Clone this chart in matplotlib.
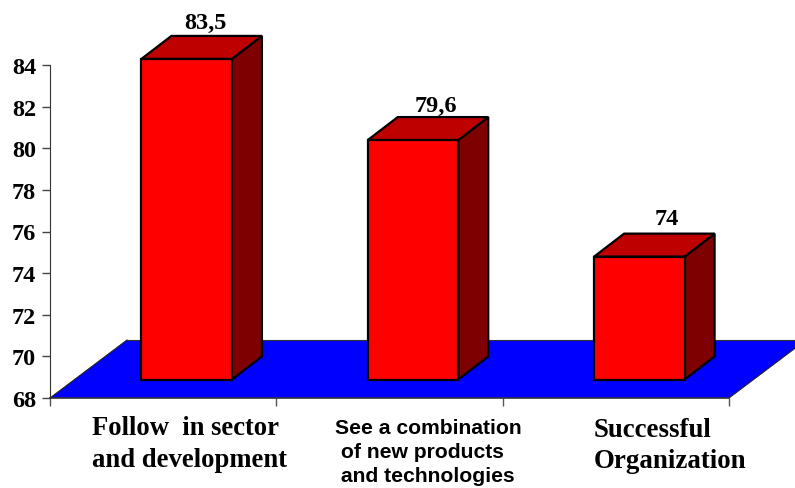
import matplotlib
matplotlib.use("Agg")
import matplotlib.pyplot as plt
from matplotlib.patches import Polygon

# Data
categories = ["Follow  in sector\nand development",
              "See a combination\n of new products\n and technologies",
              "Successful\nOrganization"]
values = [83.5, 79.6, 74]
value_labels = ["83,5", "79,6", "74"]
y_ticks = [68, 70, 72, 74, 76, 78, 80, 82, 84]

W, H = 795, 489
L, R, B, T = 50, 729, 399, 66   # axes box in pixels
fig = plt.figure(figsize=(W / 100, H / 100), dpi=100, facecolor="white")
ax = fig.add_axes([L / W, 1 - B / H, (R - L) / W, (B - T) / H])
ax.set_xlim(-0.5, 2.5)
ax.set_ylim(68, 84)

ux = (R - L) / 3      # pixels per category
uy = (B - T) / 16     # pixels per value unit
px = lambda p: p / ux
py = lambda p: p / uy

# floor
floor_depth_x, floor_depth_y = px(77), py(58)
ax.add_patch(Polygon([(-0.5, 68), (2.5, 68), (2.5 + floor_depth_x, 68 + floor_depth_y),
                      (-0.5 + floor_depth_x, 68 + floor_depth_y)],
                     closed=True, facecolor="#0000ff", edgecolor="none", clip_on=False, zorder=1))
ax.plot([-0.5, 2.5], [68, 68], color="#333333", lw=1.2, clip_on=False, zorder=2)
ax.plot([-0.5 + floor_depth_x, 2.5 + floor_depth_x], [68 + floor_depth_y] * 2,
        color="#333333", lw=0.8, clip_on=False, zorder=1.5)
ax.plot([-0.5, -0.5 + floor_depth_x], [68, 68 + floor_depth_y], color="#222222", lw=0.8, clip_on=False, zorder=1.5)
ax.plot([2.5, 2.5 + floor_depth_x], [68, 68 + floor_depth_y], color="#222222", lw=0.8, clip_on=False, zorder=1.5)

# bars
bw = px(90.5)
shift = px(23.5)
base = 68 + py(18.5)
top_off = py(16.5)
dx, dy = px(30), py(23)
label_nudge = [(19, 3), (23, 1), (27, 5)]   # pixel offsets of the value labels
edge = dict(edgecolor="black", lw=1.6, joinstyle="miter", clip_on=False, zorder=3)
for i, v in enumerate(values):
    x0 = i + shift - bw / 2
    x1 = x0 + bw
    t = v + top_off
    ax.add_patch(Polygon([(x1, base), (x1 + dx, base + dy), (x1 + dx, t + dy), (x1, t)],
                         closed=True, facecolor="#7f0000", **edge))
    ax.add_patch(Polygon([(x0, t), (x1, t), (x1 + dx, t + dy), (x0 + dx, t + dy)],
                         closed=True, facecolor="#bf0000", **edge))
    ax.add_patch(Polygon([(x0, base), (x1, base), (x1, t), (x0, t)],
                         closed=True, facecolor="#ff0000", **edge))
    nx, ny = label_nudge[i]
    ax.text(i + shift + px(nx), t + dy + py(ny), value_labels[i], ha="center", va="bottom",
            family="Liberation Serif", fontweight="bold", fontsize=17.5, color="black", clip_on=False)

# axes
for s in ("top", "right"):
    ax.spines[s].set_visible(False)
ax.spines["left"].set_color("#333333")
ax.spines["bottom"].set_visible(False)
ax.set_yticks(y_ticks)
ax.set_yticklabels([str(t) for t in y_ticks], family="Liberation Serif", fontweight="bold", fontsize=17.5)
ax.tick_params(axis="y", length=6, width=1, color="#444444", pad=4)
ax.set_xticks([-0.5, 0.5, 1.5, 2.5])
ax.set_xticklabels([])
ax.tick_params(axis="x", length=6, width=1, color="#555555")
ax.patch.set_visible(False)

# category labels (left edge, first baseline in pixels)
label_style = [
    (92, 435, "Liberation Serif", 19.2, 32),
    (335, 434, "Liberation Sans", 15.2, 24),
    (594, 437, "Liberation Serif", 19.4, 31),
]
for cat, (lx, ly, fam, fs, lh) in zip(categories, label_style):
    for k, line in enumerate(cat.split("\n")):
        fig.text(lx / W, 1 - (ly + k * lh) / H, line, ha="left", va="baseline",
                 family=fam, fontweight="bold", fontsize=fs, color="black")

fig.savefig("out.png", dpi=100, facecolor="white")
